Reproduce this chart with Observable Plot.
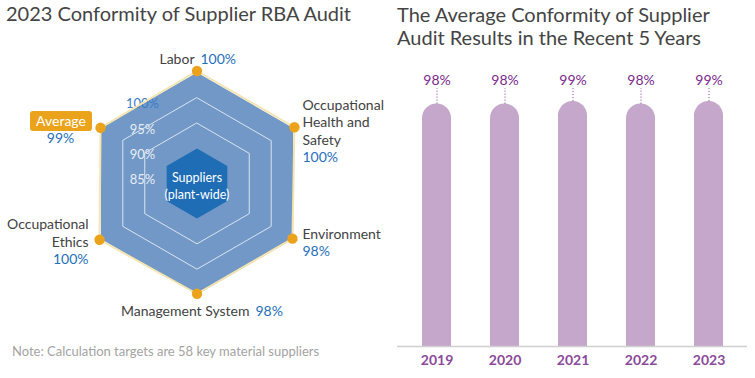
<!DOCTYPE html>
<html>
<head>
<meta charset="utf-8">
<script src="https://cdn.jsdelivr.net/npm/d3@7"></script>
<script src="https://cdn.jsdelivr.net/npm/@observablehq/plot@0.6"></script>
<style>
  html, body { margin: 0; padding: 0; background: #fff; }
  #wrap { position: relative; width: 755px; height: 378px; overflow: hidden; font-family: Lato, sans-serif; }
  .title { position: absolute; font-family: Lato, sans-serif; font-size: 20px; line-height: 23px; color: #444; white-space: nowrap; }
  #left, #right { position: absolute; top: 0; }
  #left { left: 0; z-index: 2; }
  #right { left: 380px; z-index: 1; }
  #avgbox { position: absolute; left: 30px; top: 111px; width: 62px; height: 20px; background: #eba31c; border-radius: 3px;
            color: #fff; font-family: Lato, sans-serif; font-size: 14px; line-height: 20px; text-align: center; z-index: 3; }
  #note { position: absolute; left: 12px; top: 343px; font-family: Lato, sans-serif; font-size: 13px; color: #a3a3a3; white-space: nowrap; }
</style>
</head>
<body>
<div id="wrap">
  <div id="right"></div>
  <div id="left"></div>
  <div class="title" style="left:6px; top:2px;">2023 Conformity of Supplier RBA Audit</div>
  <div class="title" style="left:397px; top:3px;">The Average Conformity of Supplier<br>Audit Results in the Recent 5 Years</div>
  <div id="avgbox">Average</div>
  <div id="note">Note: Calculation targets are 58 key material suppliers</div>
</div>
<script>
// ---------- data ----------
const categories = ["Labor", "Occupational Health and Safety", "Environment", "Management System", "Occupational Ethics", "Average"];
const categoryLabels = ["Labor", "Occupational\nHealth and\nSafety", "Environment", "Management System", "Occupational\nEthics", ""];
const conformity = [100, 100, 98, 98, 100, 99];
const ringTicks = [85, 90, 95, 100];
const centerLabel = "Suppliers\n(plant-wide)";

const years = ["2019", "2020", "2021", "2022", "2023"];
const yearlyConformity = [98, 98, 99, 98, 99];

// ---------- radar ----------
const angle = i => i * Math.PI / 3;
const rGrid = d3.scaleLinear().domain([85, 100]).range([35, 111]);
const rData = d3.scaleLinear().domain([0, 100]).range([0, 112.5]);
const pt = (i, r) => ({x: r * Math.sin(angle(i)), y: r * Math.cos(angle(i))});

const rings = ringTicks.flatMap(v => categories.map((c, i) => ({tick: v, ...pt(i, rGrid(v))})));
const dataPts = categories.map((c, i) => ({cat: c, label: categoryLabels[i], value: conformity[i], ...pt(i, rData(conformity[i]))}));

// label layout relative to each data vertex (px offsets; y offsets downward)
const layout = [
  {nx: -2.5, ny: -7.5, na: "end",   vx: 3.5,  vy: -7.5,  va: "start"},
  {nx: 8,    ny: 17.5, na: "start", vx: 8,    vy: 34.5,  va: "start"},
  {nx: 10,   ny: 0,    na: "start", vx: 10,   vy: 17,    va: "start"},
  {nx: 52.5, ny: 21.75,na: "end",   vx: 58.5, vy: 21.75, va: "start"},
  {nx: -11,  ny: 6.75, na: "end",   vx: -11,  vy: 23.75, va: "end"},
  {nx: 0,    ny: 0,    na: "middle",vx: -40,  vy: 14.7,  va: "middle"}
];

const labelMarks = dataPts.flatMap((d, i) => {
  const L = layout[i];
  const m = [];
  if (d.label) m.push(Plot.text([d], {x: d => d.x + L.nx, y: d => d.y - L.ny, text: "label", textAnchor: L.na,
    lineAnchor: "bottom", lineHeight: 1.24, fill: "#424242", fontSize: 14}));
  m.push(Plot.text([d], {x: d => d.x + L.vx, y: d => d.y - L.vy, text: d => d.value + "%", textAnchor: L.va,
    lineAnchor: "bottom", fill: "#1f6fba", fontSize: 14}));
  return m;
});

const radar = Plot.plot({
  width: 398, height: 378,
  margin: 0,
  x: {domain: [-196.5, 201.5], range: [0, 398], axis: null},
  y: {domain: [-195, 183], range: [378, 0], axis: null},
  style: {fontFamily: "Lato, sans-serif", background: "transparent", overflow: "visible"},
  marks: [
    Plot.line(rings.filter(d => d.tick === 100), {x: "x", y: "y", curve: "linear-closed", fill: "#7198c6", stroke: "none"}),
    Plot.line(rings.filter(d => d.tick === 85), {x: "x", y: "y", curve: "linear-closed", fill: "#1f6db5", stroke: "none"}),
    Plot.line(rings.filter(d => d.tick === 90 || d.tick === 95), {x: "x", y: "y", z: "tick", curve: "linear-closed",
      stroke: "#dbe4f1", strokeWidth: 1}),
    Plot.text(ringTicks.filter(v => v === 100), {x: () => -54.5, y: v => rGrid(v) - 31.5, text: v => v + "%",
      fill: "#3a7bc8", fontSize: 13}),
    Plot.text(ringTicks.filter(v => v !== 100), {x: () => -54.5, y: v => rGrid(v) - 31.5, text: v => v + "%",
      fill: "#e8eef7", fontSize: 13}),
    Plot.text([centerLabel], {x: () => 0, y: () => 0, text: d => d, fill: "#fff", fontSize: 12.5, lineHeight: 1.35, dy: 1.5}),
    Plot.line(dataPts, {x: "x", y: "y", curve: "linear-closed", stroke: "#f6e4b0", strokeWidth: 2}),
    Plot.dot(dataPts, {x: "x", y: "y", r: 5.2, fill: "#eca31c", stroke: "none"}),
    ...labelMarks
  ]
});
document.getElementById("left").append(radar);

// ---------- bars ----------
const rows = years.map((y, i) => ({year: y, value: yearlyConformity[i]}));
const yMax = 104.3;
const barColor = "#c4a7cb";

const bars = Plot.plot({
  width: 375, height: 378,
  marginTop: 88, marginBottom: 32, marginLeft: 17, marginRight: 8,
  x: {domain: years, range: [20, 364], paddingInner: 0.58, paddingOuter: 0.29, label: null},
  y: {domain: [0, yMax], axis: null},
  style: {fontFamily: "Lato, sans-serif", background: "transparent"},
  marks: [
    Plot.barY(rows, {x: "year", y: "value", fill: barColor, rx: 14.5}),
    Plot.barY(rows, {x: "year", y1: 0, y2: d => d.value / 2, fill: barColor}),
    Plot.ruleY([0], {stroke: "#d0d0d0", strokeWidth: 1.5}),
    Plot.ruleX(rows, {x: "year", y1: "value", y2: () => yMax, stroke: "#7d3a8e", strokeDasharray: "1,2", strokeWidth: 1}),
    Plot.text(rows, {x: "year", y: () => yMax, text: d => d.value + "%", lineAnchor: "bottom", dy: -4, fill: "#7b2a8c", fontSize: 14}),
    Plot.axisX({tickSize: 0, tickPadding: 9, fontSize: 14, fontWeight: "bold", color: "#8a4a99", label: null})
  ]
});
document.getElementById("right").append(bars);
</script>
</body>
</html>
